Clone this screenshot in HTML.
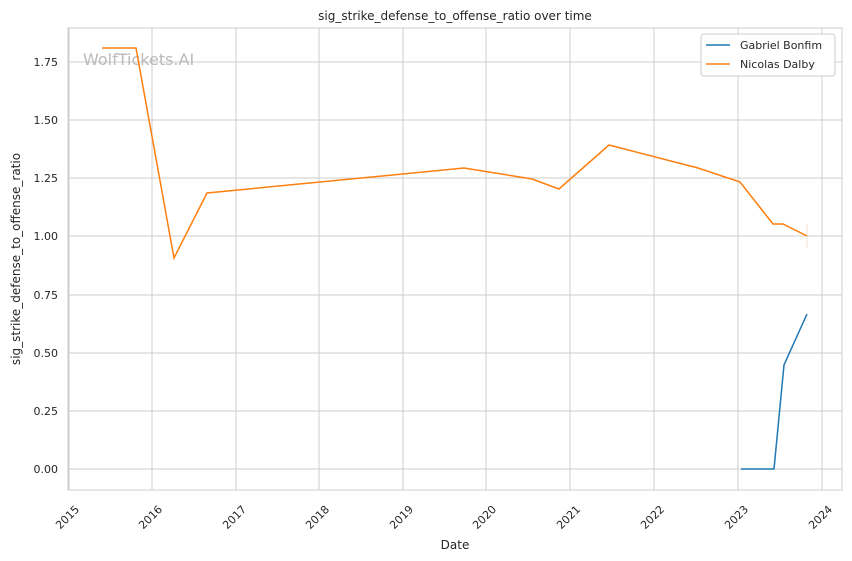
<!DOCTYPE html>
<html><head><meta charset="utf-8"><style>
body{margin:0;background:#fff}
svg{display:block;font-family:"DejaVu Sans","Liberation Sans",sans-serif}
</style></head><body>
<svg width="852" height="561" viewBox="0 0 852 561">
<rect width="852" height="561" fill="#fff"/>
<g stroke="#cccccc" stroke-width="1">
<line x1="69" y1="28" x2="69" y2="490"/><line x1="152" y1="28" x2="152" y2="490"/><line x1="236" y1="28" x2="236" y2="490"/><line x1="319" y1="28" x2="319" y2="490"/><line x1="403" y1="28" x2="403" y2="490"/><line x1="486" y1="28" x2="486" y2="490"/><line x1="570" y1="28" x2="570" y2="490"/><line x1="654" y1="28" x2="654" y2="490"/><line x1="738" y1="28" x2="738" y2="490"/><line x1="822" y1="28" x2="822" y2="490"/>
<line x1="68" y1="469" x2="842" y2="469"/><line x1="68" y1="411" x2="842" y2="411"/><line x1="68" y1="353" x2="842" y2="353"/><line x1="68" y1="295" x2="842" y2="295"/><line x1="68" y1="236" x2="842" y2="236"/><line x1="68" y1="178" x2="842" y2="178"/><line x1="68" y1="120" x2="842" y2="120"/><line x1="68" y1="62" x2="842" y2="62"/>
</g>
<rect x="68" y="28" width="774" height="462" fill="none" stroke="#cccccc"/>
<text x="83" y="65" font-size="16" fill="#bbbbbb">WolfTickets.AI</text>
<g font-size="11" fill="#262626" text-anchor="end">
<text x="58" y="473">0.00</text><text x="58" y="415">0.25</text><text x="58" y="357">0.50</text><text x="58" y="299">0.75</text><text x="58" y="240">1.00</text><text x="58" y="182">1.25</text><text x="58" y="124">1.50</text><text x="58" y="66">1.75</text>
</g>
<g font-size="11" fill="#262626" text-anchor="end">
<text transform="translate(80,510) rotate(-45)">2015</text><text transform="translate(163,510) rotate(-45)">2016</text><text transform="translate(247,510) rotate(-45)">2017</text><text transform="translate(330,510) rotate(-45)">2018</text><text transform="translate(414,510) rotate(-45)">2019</text><text transform="translate(497,510) rotate(-45)">2020</text><text transform="translate(581,510) rotate(-45)">2021</text><text transform="translate(665,510) rotate(-45)">2022</text><text transform="translate(749,510) rotate(-45)">2023</text><text transform="translate(833,510) rotate(-45)">2024</text>
</g>
<text x="455" y="549" font-size="12" fill="#262626" text-anchor="middle">Date</text>
<text transform="translate(20,259) rotate(-90)" font-size="12" fill="#262626" text-anchor="middle">sig_strike_defense_to_offense_ratio</text>
<text x="455" y="20" font-size="12" fill="#262626" text-anchor="middle">sig_strike_defense_to_offense_ratio over time</text>
<line x1="807" y1="224" x2="807" y2="248" stroke="#f0e0d0" stroke-width="1"/>
<polyline fill="none" stroke="#ff7f0e" stroke-width="1.5" points="102,48 136,48 174,258 207,193 464,168 532,179 559,189 609,145 698,168 740,182 773,224 783,224 807,236"/>
<polyline fill="none" stroke="#1f77b4" stroke-width="1.5" points="741,469 774,469 784,365 807,314"/>
<rect x="701" y="34" width="134" height="42" rx="3" fill="#fff" stroke="#cccccc"/>
<line x1="706" y1="45" x2="730" y2="45" stroke="#1f77b4" stroke-width="1.5"/>
<line x1="706" y1="64" x2="730" y2="64" stroke="#ff7f0e" stroke-width="1.5"/>
<g font-size="11" fill="#262626"><text x="740" y="49">Gabriel Bonfim</text><text x="740" y="68">Nicolas Dalby</text></g>
</svg>
</body></html>
